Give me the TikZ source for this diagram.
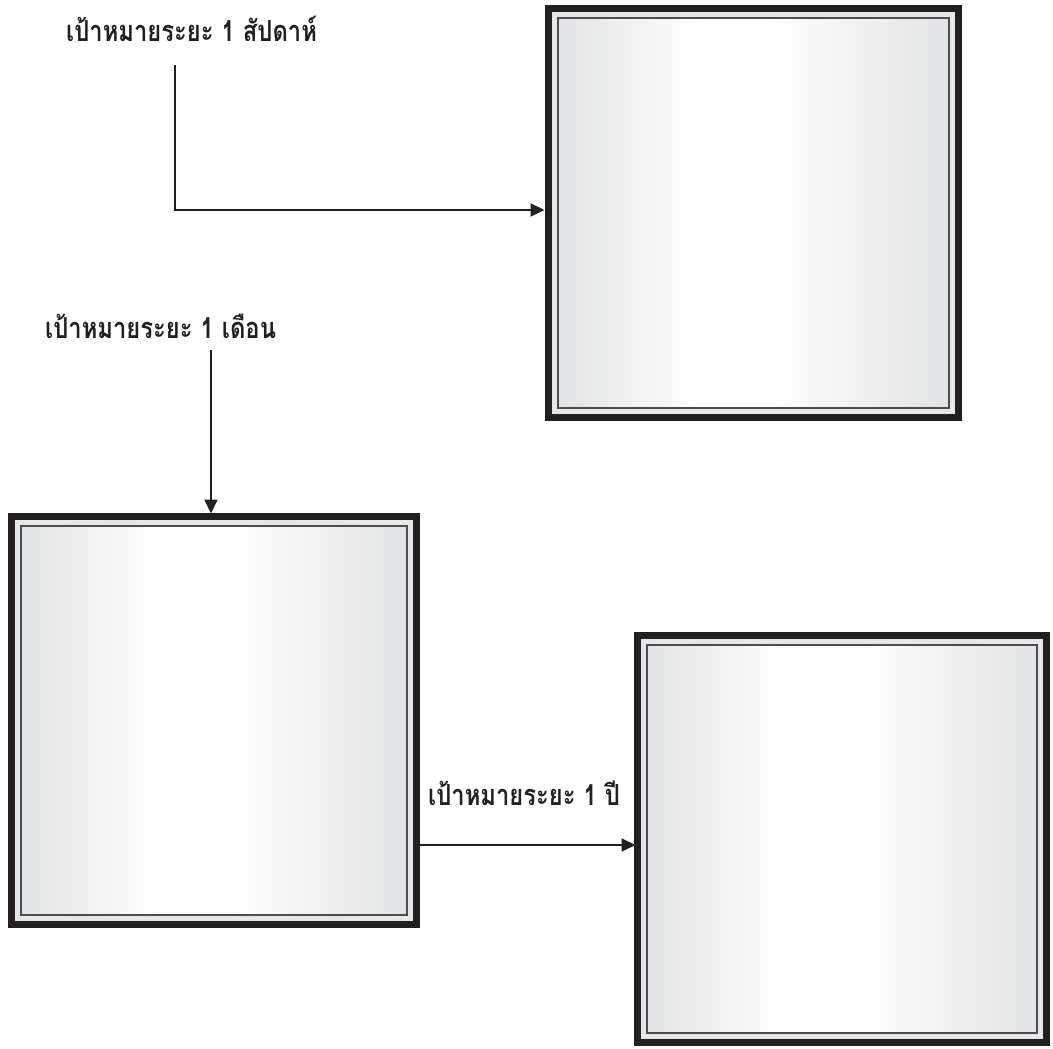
\documentclass[tikz,border=0pt]{standalone}
\usepackage{fontspec}
\newfontfamily\thaifont[Script=Thai,FakeStretch=0.82]{Loma}
\usetikzlibrary{arrows.meta}
\definecolor{ink}{HTML}{231F20}
\definecolor{bandgray}{HTML}{E6E7E8}
\definecolor{edgegray}{HTML}{E2E3E4}
\definecolor{linegray}{HTML}{4D4D4F}
\pgfdeclarehorizontalshading{boxshade}{100bp}{color(0bp)=(edgegray); color(25bp)=(edgegray); color(43bp)=(white); color(52bp)=(white); color(75bp)=(edgegray); color(100bp)=(edgegray)}
\begin{document}
\begin{tikzpicture}[x=1pt,y=-1pt,
 goalbox/.style={draw=ink, line width=7pt, fill=bandgray, rectangle, inner sep=0pt, outer sep=0pt},
 innerline/.style={draw=linegray, line width=1.4pt, shading=boxshade},
 goallabel/.style={font=\thaifont\bfseries\fontsize{29}{34}\selectfont, text=ink, inner sep=0pt, anchor=base west},
 conn/.style={draw=ink, line width=1.9pt, -{Triangle[length=14pt,width=13pt]}}]
\useasboundingbox (0,0) rectangle (1053,1049);
% boxes
\node[goalbox, minimum width=410pt, minimum height=409pt] (b1) at (753.5,213) {};
\node[goalbox, minimum width=405pt, minimum height=408pt] (b2) at (214,720.5) {};
\node[goalbox, minimum width=409pt, minimum height=407pt] (b3) at (842,839) {};
\foreach \b in {b1,b2,b3}{
  \path[innerline] ([shift={(9.5,9.5)}]\b.north west) rectangle ([shift={(-9.5,-9.5)}]\b.south east);
}
% labels
\node[goallabel] (l1) at (66,42) {เป้าหมายระยะ 1 สัปดาห์};
\node[goallabel] (l2) at (45,338) {เป้าหมายระยะ 1 เดือน};
\node[goallabel] (l3) at (428,805) {เป้าหมายระยะ 1 ปี};
% connectors
\coordinate (c1) at (175,65);
\coordinate (c2) at (211,350);
\coordinate (c3) at (420,845);
\draw[conn, shorten >=4pt] (c1) |- ([yshift=3pt]b1.west);
\draw[conn, shorten >=3pt] (c2) -- (c2 |- b2.north);
\draw[conn, shorten >=2pt] (c3) -- (c3 -| b3.west);
\end{tikzpicture}
\end{document}
